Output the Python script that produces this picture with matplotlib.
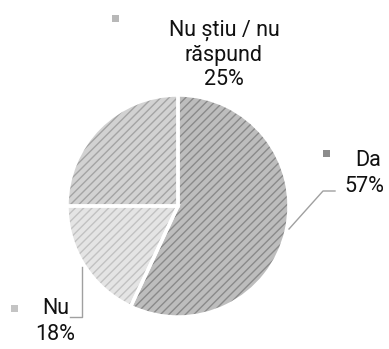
import matplotlib
matplotlib.use("Agg")
import matplotlib.pyplot as plt
from matplotlib.patches import Rectangle

# Survey answers and their shares (%)
categories = ["Da", "Nu", "Nu știu / nu\nrăspund"]
values = [57, 18, 25]
face_colors = ["#bdbdbd", "#e4e4e4", "#d2d2d2"]
hatch_colors = ["#8a8a8a", "#c2c2c2", "#a4a4a4"]

W, H = 389, 349
fig = plt.figure(figsize=(W / 100, H / 100), dpi=100)
ax = fig.add_axes([0, 0, 1, 1])

center = (178, H - 206)
radius = 111

# hatched fill layer
wedges, _ = ax.pie(values, startangle=90, counterclock=False, center=center,
                   radius=radius, colors=face_colors, frame=True,
                   wedgeprops=dict(linewidth=0))
for w, hc in zip(wedges, hatch_colors):
    w.set_hatch("////")
    w.set_edgecolor(hc)
    w.set_linewidth(0)

# white slice separators
ax.pie(values, startangle=90, counterclock=False, center=center, radius=radius,
       colors=["none"] * len(values), frame=True,
       wedgeprops=dict(linewidth=2.5, edgecolor="white"))
ax.set_xlim(0, W)
ax.set_ylim(0, H)
ax.set_aspect("equal")
ax.axis("off")

font = dict(family=["Roboto", "DejaVu Sans"], fontsize=15.5,
            color="#111111")

def y(v):
    return H - v

# label for "Nu știu / nu răspund"
ax.add_patch(Rectangle((112, y(22)), 7, 7, facecolor="#b8b8b8", edgecolor="none"))
ax.text(224, y(55), f"{categories[2]}\n{values[2]}%", ha="center", va="center",
        linespacing=1.22, **font)

# label for "Da"
ax.add_patch(Rectangle((323, y(157)), 7, 7, facecolor="#8c8c8c", edgecolor="none"))
ax.text(368, y(160), categories[0], ha="center", va="center", **font)
ax.text(364, y(187), f"{values[0]}%", ha="center", va="center", **font)
ax.plot([289, 323, 335], [y(229), y(191), y(191)], color="#a0a0a0", lw=1)

# label for "Nu"
ax.add_patch(Rectangle((11, y(312)), 7, 7, facecolor="#c4c4c4", edgecolor="none"))
ax.text(56, y(309), categories[1], ha="center", va="center", **font)
ax.text(55, y(334), f"{values[1]}%", ha="center", va="center", **font)
ax.plot([82, 82, 70], [y(267), y(317), y(317)], color="#a0a0a0", lw=1)

fig.savefig("out.png", dpi=100)
